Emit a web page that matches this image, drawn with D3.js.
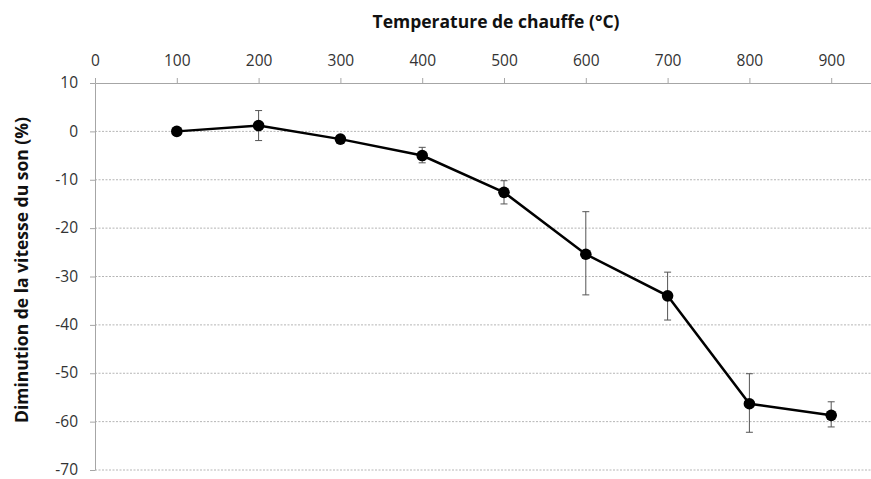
<!DOCTYPE html>
<html lang="fr">
<head>
    <meta charset="UTF-8">
    <title>Diminution de la vitesse du son</title>
    <script src="https://d3js.org/d3.v7.min.js"></script>
    <style>
        body { margin: 0; background: #fff; }
        svg { display: block; font-family: "Open Sans", "Noto Sans", sans-serif; }
        .axe text { font-family: "Open Sans", "Noto Sans", sans-serif; font-size: 15.5px; fill: #333; }
    </style>
</head>
<body>
    <div id="chart"></div>

    <script>
        // données
        const temperatures = [100, 200, 300, 400, 500, 600, 700, 800, 900];
        const diminution = [0, 1.2, -1.6, -5.0, -12.6, -25.4, -34.0, -56.3, -58.7];
        const errHaut = [0, 3.1, 0.4, 1.7, 2.4, 8.8, 4.9, 6.2, 2.8];
        const errBas = [0, 3.1, 0.4, 1.5, 2.4, 8.4, 5.0, 5.9, 2.4];
        const xTicks = [0, 100, 200, 300, 400, 500, 600, 700, 800, 900];
        const yTicks = [10, 0, -10, -20, -30, -40, -50, -60, -70];

        const width = 871;
        const height = 479;
        const margin = { top: 83, left: 95 };

        const svg = d3.select("#chart")
            .append("svg")
            .attr("width", width)
            .attr("height", height);

        // échelles
        const x = d3.scaleLinear().domain([0, 1000]).range([margin.left, margin.left + 818]);
        const y = d3.scaleLinear().domain([10, -70]).range([margin.top, 470]);

        // grille horizontale pointillée
        svg.append("g")
            .selectAll("line")
            .data(yTicks.filter(d => d !== 10))
            .enter()
            .append("line")
            .attr("x1", x(0))
            .attr("x2", x(1000))
            .attr("y1", d => y(d))
            .attr("y2", d => y(d))
            .attr("stroke", "#b5b5b5")
            .attr("stroke-width", 1)
            .attr("stroke-dasharray", "2,1.5");

        // axe du haut
        const axeX = svg.append("g")
            .attr("class", "axe")
            .attr("transform", `translate(0, ${y(10)})`)
            .call(d3.axisTop(x).tickValues(xTicks).tickSize(5).tickPadding(12).tickFormat(d => String(d)));
        axeX.select(".domain").attr("stroke", "#a6a6a6");
        axeX.selectAll(".tick line").attr("stroke", "#a6a6a6");

        // axe de gauche
        const axeY = svg.append("g")
            .attr("class", "axe")
            .attr("transform", `translate(${x(0)}, 0)`)
            .call(d3.axisLeft(y).tickValues(yTicks).tickSize(5).tickPadding(12).tickSizeOuter(0).tickFormat(d => String(d)));
        axeY.select(".domain").attr("stroke", "#a6a6a6");
        axeY.selectAll(".tick line").attr("stroke", "#a6a6a6");
        axeY.selectAll("text").attr("dy", "0.3em");

        // barres d'erreur
        const erreurs = svg.append("g").attr("stroke", "#555").attr("stroke-width", 1);
        temperatures.forEach((t, i) => {
            if (errHaut[i] === 0 && errBas[i] === 0) return;
            const cx = x(t);
            const yh = y(diminution[i] + errHaut[i]);
            const yb = y(diminution[i] - errBas[i]);
            erreurs.append("line").attr("x1", cx).attr("x2", cx).attr("y1", yh).attr("y2", yb);
            erreurs.append("line").attr("x1", cx - 3.5).attr("x2", cx + 3.5).attr("y1", yh).attr("y2", yh);
            erreurs.append("line").attr("x1", cx - 3.5).attr("x2", cx + 3.5).attr("y1", yb).attr("y2", yb);
        });

        // courbe
        const ligne = d3.line()
            .x((d, i) => x(temperatures[i]))
            .y(d => y(d));

        svg.append("path")
            .datum(diminution)
            .attr("d", ligne)
            .attr("fill", "none")
            .attr("stroke", "#000")
            .attr("stroke-width", 2.5);

        svg.selectAll("circle")
            .data(diminution)
            .enter()
            .append("circle")
            .attr("cx", (d, i) => x(temperatures[i]))
            .attr("cy", d => y(d))
            .attr("r", 5.8)
            .attr("fill", "#000");

        // titres des axes
        svg.append("text")
            .attr("x", 496)
            .attr("y", 28)
            .attr("text-anchor", "middle")
            .attr("font-size", "17.5px")
            .attr("font-weight", "bold")
            .attr("fill", "#111")
            .text("Temperature de chauffe (°C)");

        svg.append("text")
            .attr("transform", "rotate(-90)")
            .attr("x", -270)
            .attr("y", 28)
            .attr("text-anchor", "middle")
            .attr("font-size", "17.5px")
            .attr("font-weight", "bold")
            .attr("fill", "#111")
            .text("Diminution de la vitesse du son (%)");
    </script>
</body>
</html>
